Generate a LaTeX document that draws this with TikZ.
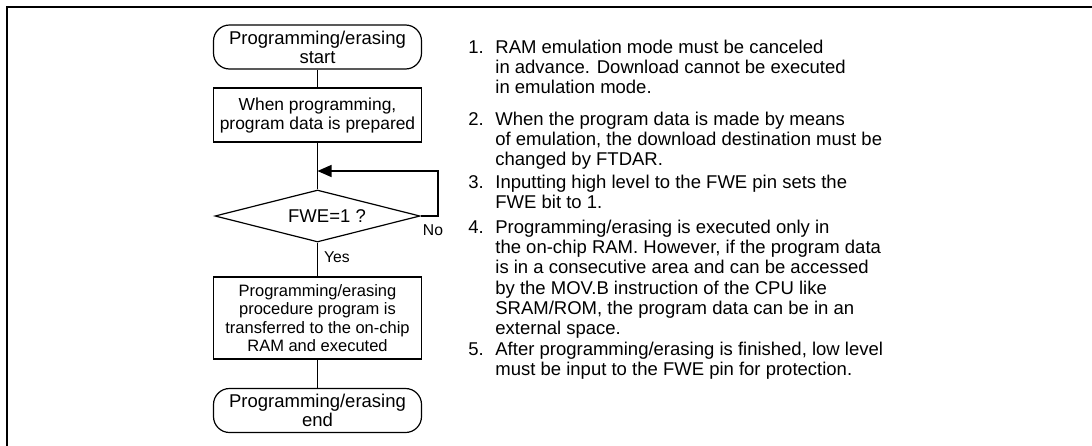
\documentclass[tikz,border=0pt]{standalone}
\usepackage{fontspec}
\setmainfont{Liberation Sans}
\usetikzlibrary{shapes.geometric,arrows.meta}
\begin{document}
\begin{tikzpicture}[x=0.5pt,y=-0.5pt,
  every node/.style={font=\fontsize{9.25}{9.4}\selectfont, inner sep=0pt},
  term/.style={draw, line width=0.6pt, rounded corners=8pt, minimum width=104pt, minimum height=22pt, align=center},
  proc/.style={draw, line width=0.6pt, minimum width=104pt, align=center},
  decision/.style={draw, line width=0.6pt, diamond, minimum width=102.5pt, minimum height=26pt},
  flow/.style={line width=0.6pt},
  note/.style={anchor=base west, font=\fontsize{9.25}{10.1}\selectfont},
  small/.style={font=\fontsize{7.85}{9}\selectfont}]
\useasboundingbox (0,0) rectangle (1092,445);
\draw[line width=1pt] (7,446) -- (7,7) -- (1093,7);

% flowchart
\node[term] (start) at (317.5,47) {Programming/erasing\\start};
\node[proc, minimum height=27pt, font=\fontsize{8.7}{9.5}\selectfont] (prep) at (317.5,115) {When programming,\\program data is prepared};
\node[decision] (fwe) at (317.5,216) {};
\node (fwet) at (327,216) {FWE=1 ?};
\node[proc, minimum height=41pt, font=\fontsize{8.25}{9.15}\selectfont] (xfer) at (317.5,318) {Programming/erasing\\procedure program is\\transferred to the on-chip\\RAM and executed};
\node[term] (stop) at (317.5,410.5) {Programming/erasing\\end};

\coordinate (join) at (317.5,171);
\coordinate (loop) at (438,171);
\draw[flow] (start) -- (prep);
\draw[flow] (prep) -- (fwe);
\draw[flow] (fwe) -- (xfer);
\draw[flow] (xfer) -- (stop);
\draw[flow,-{Triangle[length=7pt,width=6pt]}] (fwe.east) -| (loop) -- (join);

\node[small] (no) at (433,230) {No};
\node[small] (yes) at (337,257) {Yes};

% notes
\node[note] (n1) at (468,53.5) {1.};
\node[note] (t1) at (495,53.5) {\begin{tabular}[t]{@{}l@{}}RAM emulation mode must be canceled\\in advance. Download cannot be executed\\in emulation mode.\end{tabular}};
\node[note] (n2) at (468,125.5) {2.};
\node[note] (t2) at (495,125.5) {\begin{tabular}[t]{@{}l@{}}When the program data is made by means\\of emulation, the download destination must be\\changed by FTDAR.\end{tabular}};
\node[note] (n3) at (468,188.5) {3.};
\node[note] (t3) at (495,188.5) {\begin{tabular}[t]{@{}l@{}}Inputting high level to the FWE pin sets the\\FWE bit to 1.\end{tabular}};
\node[note] (n4) at (468,233.5) {4.};
\node[note] (t4) at (495,233.5) {\begin{tabular}[t]{@{}l@{}}Programming/erasing is executed only in\\the on-chip RAM. However, if the program data\\is in a consecutive area and can be accessed\\by the MOV.B instruction of the CPU like\\SRAM/ROM, the program data can be in an\\external space.\end{tabular}};
\node[note] (n5) at (468,355.5) {5.};
\node[note] (t5) at (495,355.5) {\begin{tabular}[t]{@{}l@{}}After programming/erasing is finished, low level\\must be input to the FWE pin for protection.\end{tabular}};
\end{tikzpicture}
\end{document}
